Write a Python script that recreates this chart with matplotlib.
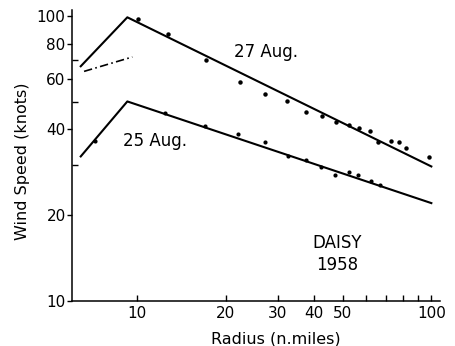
import matplotlib
matplotlib.use("Agg")
import matplotlib.pyplot as plt
from matplotlib.ticker import FixedLocator, FixedFormatter, NullFormatter

# 27 Aug observations (radius n.mi, wind speed kt)
aug27_r = [10.1, 12.7, 17.1, 22.3, 27.1, 32.3, 37.4, 42.6, 47.4, 52.5, 56.8, 61.9, 66.0, 72.7, 77.6, 81.8, 98.3]
aug27_v = [98.0, 86.6, 69.9, 58.5, 53.2, 50.1, 46.1, 44.7, 42.5, 41.5, 40.4, 39.5, 36.2, 36.4, 36.1, 34.4, 31.9]
# 27 Aug fitted profile
aug27_fit_r = [6.43, 9.26, 100.0]
aug27_fit_v = [66.6, 99.0, 29.6]
# 27 Aug dash-dot segment
aug27_dd_r = [6.6, 9.63]
aug27_dd_v = [63.9, 71.8]

# 25 Aug observations
aug25_r = [7.18, 12.4, 17.0, 22.0, 27.1, 32.5, 37.4, 42.2, 47.1, 52.4, 56.5, 62.4, 66.9]
aug25_v = [36.4, 45.6, 41.1, 38.4, 36.1, 32.1, 31.2, 29.5, 27.7, 28.3, 27.7, 26.4, 25.4]
# 25 Aug fitted profile
aug25_fit_r = [6.43, 9.26, 100.0]
aug25_fit_v = [32.1, 50.1, 22.0]

x_major = [10, 20, 30, 40, 50, 100]
x_labels = ["10", "20", "30", "40", "50", "100"]
x_minor = [60, 70, 80, 90]
y_major = [10, 20, 40, 60, 80, 100]
y_labels = ["10", "20", "40", "60", "80", "100"]
y_minor = [30, 50, 70]

fig = plt.figure(figsize=(4.55, 3.46), dpi=100)
ax = fig.add_axes([0.158, 0.1315, 0.809, 0.8395])

ax.plot(aug27_fit_r, aug27_fit_v, color="black", lw=1.5)
ax.plot(aug25_fit_r, aug25_fit_v, color="black", lw=1.5)
ax.plot(aug27_dd_r, aug27_dd_v, color="black", lw=1.2, linestyle=(0, (5, 2, 1, 2)))
ax.plot(aug27_r, aug27_v, "o", color="black", ms=3.2, mew=0)
ax.plot(aug25_r, aug25_v, "o", color="black", ms=3.0, mew=0)

ax.set_xscale("log")
ax.set_yscale("log")
ax.set_xlim(6.0, 107)
ax.set_ylim(10, 105)

ax.xaxis.set_major_locator(FixedLocator(x_major))
ax.xaxis.set_major_formatter(FixedFormatter(x_labels))
ax.xaxis.set_minor_locator(FixedLocator(x_minor))
ax.xaxis.set_minor_formatter(NullFormatter())
ax.yaxis.set_major_locator(FixedLocator(y_major))
ax.yaxis.set_major_formatter(FixedFormatter(y_labels))
ax.yaxis.set_minor_locator(FixedLocator(y_minor))
ax.yaxis.set_minor_formatter(NullFormatter())

ax.tick_params(axis="x", which="both", direction="in", length=4, width=1, labelsize=11, pad=4)
ax.tick_params(axis="y", which="major", direction="out", length=3.5, width=1, labelsize=11, pad=1)
ax.tick_params(axis="y", which="minor", direction="in", length=4, width=1)

for s in ["top", "right"]:
    ax.spines[s].set_visible(False)
for s in ["left", "bottom"]:
    ax.spines[s].set_linewidth(1.1)

ax.set_xlabel("Radius (n.miles)", fontsize=11.5)
ax.xaxis.set_label_coords(0.553, -0.105)
ax.set_ylabel("Wind Speed (knots)", fontsize=11.5)
ax.yaxis.set_label_coords(-0.115, 0.478)

ax.text(27.5, 75, "27 Aug.", fontsize=12, ha="center", va="center")
ax.text(11.46, 36.4, "25 Aug.", fontsize=12, ha="center", va="center")
ax.text(47.8, 14.55, "DAISY\n1958", fontsize=12, ha="center", va="center", linespacing=1.3)

fig.savefig("out.png", dpi=100)
